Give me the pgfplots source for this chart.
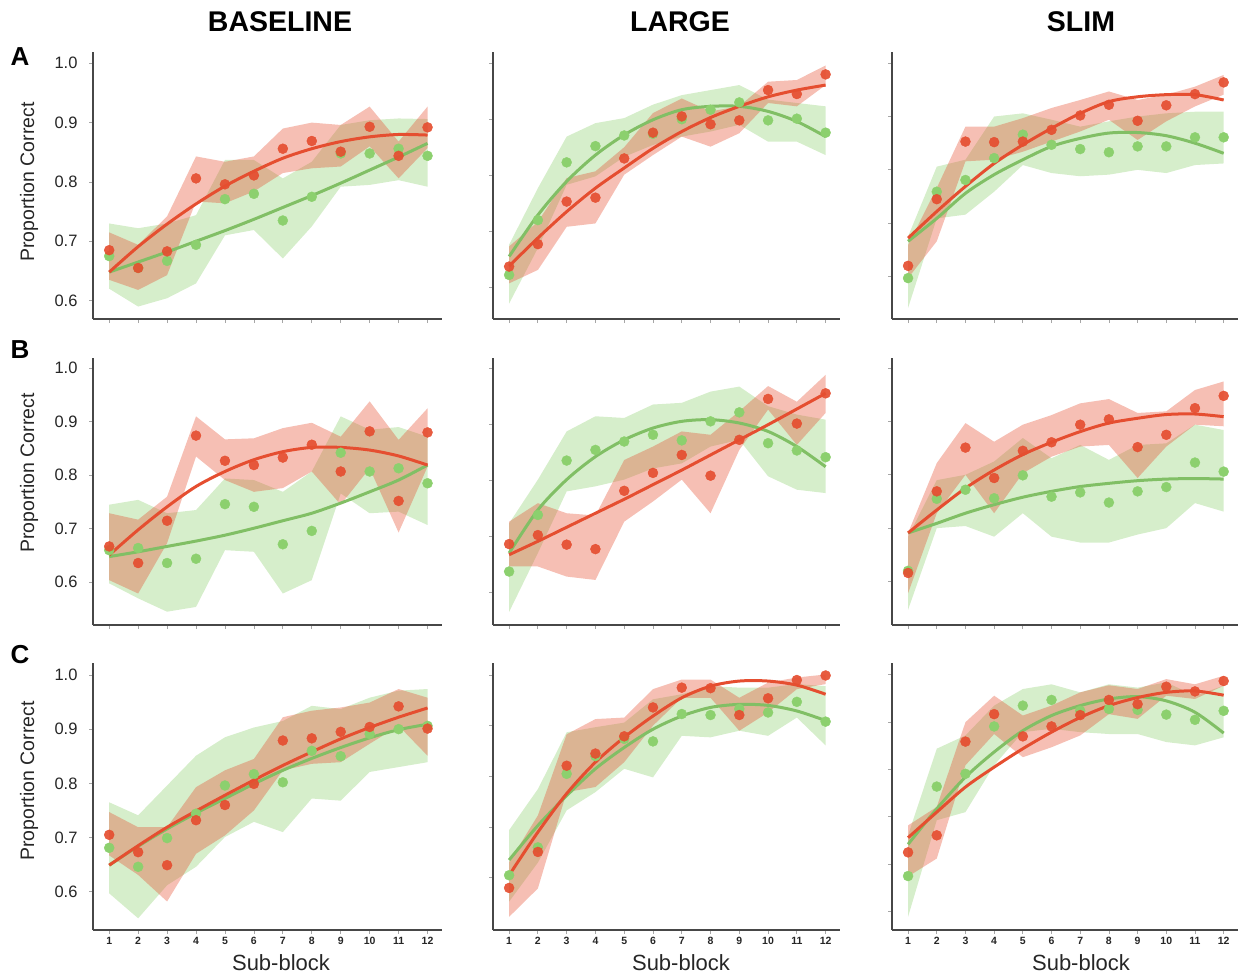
\documentclass[border=0pt]{standalone}
\usepackage{pgfplots}
\pgfplotsset{compat=1.18}
\usepgfplotslibrary{fillbetween}
\usepackage{pgfplotstable}
\usepackage{fontspec}
\setmainfont{Liberation Sans}

\definecolor{rc}{RGB}{229,78,48}
\definecolor{gc}{RGB}{140,208,110}

% columns: x, red mean, red lower, red upper, green mean, green lower, green upper, red fit, green fit
\pgfplotstableread{
x rm rl ru gm gl gu rf gf
1 .685 .635 .715 .675 .620 .730 .648 .648
2 .655 .618 .694 .655 .590 .722 .691 .665
3 .683 .643 .742 .667 .604 .730 .729 .682
4 .806 .767 .843 .694 .629 .744 .763 .700
5 .796 .764 .834 .771 .710 .837 .793 .718
6 .811 .784 .843 .780 .719 .837 .818 .737
7 .856 .815 .890 .735 .671 .806 .840 .757
8 .869 .823 .900 .775 .725 .834 .856 .777
9 .851 .826 .896 .848 .792 .896 .868 .798
10 .893 .860 .927 .848 .795 .904 .876 .820
11 .844 .806 .868 .856 .803 .907 .880 .842
12 .892 .857 .927 .844 .792 .906 .879 .865
}\tAa
\pgfplotstableread{
x rm rl ru gm gl gu rf gf
1 .637 .607 .673 .622 .571 .676 .638 .655
2 .677 .631 .717 .720 .670 .777 .688 .729
3 .753 .708 .795 .823 .783 .869 .735 .789
4 .760 .714 .807 .852 .798 .893 .777 .836
5 .830 .801 .850 .871 .833 .902 .813 .872
6 .876 .836 .911 .874 .854 .926 .848 .899
7 .905 .869 .937 .900 .869 .943 .878 .917
8 .891 .851 .914 .917 .878 .952 .903 .923
9 .898 .875 .923 .930 .890 .961 .923 .923
10 .952 .929 .967 .898 .860 .935 .940 .914
11 .945 .923 .970 .901 .860 .929 .952 .896
12 .980 .961 .996 .876 .836 .923 .961 .869
}\tAb
\pgfplotstableread{
x rm rl ru gm gl gu rf gf
1 .620 .597 .659 .597 .541 .675 .672 .666
2 .745 .666 .766 .759 .709 .806 .722 .709
3 .853 .816 .881 .781 .716 .819 .769 .756
4 .852 .819 .881 .822 .759 .900 .812 .791
5 .853 .834 .897 .866 .809 .906 .847 .819
6 .875 .853 .916 .847 .794 .894 .878 .844
7 .902 .872 .931 .839 .788 .881 .906 .859
8 .922 .894 .947 .833 .791 .891 .928 .869
9 .892 .856 .931 .844 .800 .900 .937 .870
10 .921 .891 .941 .844 .794 .906 .941 .864
11 .942 .919 .956 .861 .809 .909 .941 .850
12 .964 .941 .978 .861 .812 .909 .931 .831
}\tAc
\pgfplotstableread{
x rm rl ru gm gl gu rf gf
1 .667 .604 .729 .660 .598 .745 .651 .648
2 .636 .579 .717 .664 .570 .754 .698 .657
3 .715 .673 .760 .636 .545 .729 .741 .667
4 .874 .835 .910 .644 .554 .735 .779 .677
5 .827 .791 .867 .746 .660 .794 .807 .688
6 .819 .769 .869 .741 .657 .791 .829 .701
7 .833 .776 .888 .671 .579 .769 .844 .715
8 .857 .807 .898 .696 .604 .807 .852 .729
9 .807 .745 .872 .842 .766 .910 .852 .748
10 .882 .813 .938 .807 .729 .885 .847 .769
11 .752 .693 .866 .813 .732 .890 .836 .791
12 .880 .816 .925 .785 .707 .872 .819 .819
}\tBa
\pgfplotstableread{
x rm rl ru gm gl gu rf gf
1 .686 .646 .726 .637 .565 .723 .667 .670
2 .702 .646 .759 .738 .670 .801 .691 .747
3 .685 .628 .741 .835 .780 .887 .716 .801
4 .677 .622 .737 .854 .789 .914 .741 .842
5 .781 .726 .836 .869 .801 .911 .766 .872
6 .813 .762 .860 .881 .821 .935 .792 .893
7 .845 .801 .887 .871 .830 .938 .818 .905
8 .808 .741 .881 .905 .860 .958 .845 .908
9 .872 .854 .923 .921 .872 .967 .872 .902
10 .945 .926 .968 .866 .807 .932 .899 .887
11 .901 .863 .940 .853 .783 .917 .927 .860
12 .955 .920 .988 .841 .777 .908 .955 .824
}\tBb
\pgfplotstableread{
x rm rl ru gm gl gu rf gf
1 .616 .578 .691 .620 .547 .684 .691 .691
2 .769 .728 .822 .755 .700 .790 .734 .709
3 .851 .800 .897 .772 .704 .800 .775 .728
4 .794 .728 .862 .756 .684 .825 .809 .744
5 .845 .803 .894 .799 .728 .869 .838 .758
6 .861 .834 .912 .759 .684 .831 .861 .769
7 .894 .853 .934 .767 .673 .856 .881 .778
8 .904 .856 .942 .748 .673 .828 .897 .784
9 .852 .794 .916 .769 .688 .856 .906 .789
10 .875 .853 .919 .777 .700 .859 .913 .792
11 .925 .894 .959 .823 .747 .894 .914 .793
12 .948 .891 .975 .806 .731 .884 .909 .792
}\tBc
\pgfplotstableread{
x rm rl ru gm gl gu rf gf
1 .705 .667 .747 .681 .597 .765 .649 .649
2 .673 .631 .719 .646 .551 .741 .685 .684
3 .649 .582 .719 .699 .612 .796 .719 .716
4 .732 .670 .793 .744 .646 .851 .749 .745
5 .760 .704 .824 .796 .701 .885 .778 .772
6 .799 .750 .845 .817 .729 .903 .806 .799
7 .879 .824 .922 .802 .710 .915 .833 .824
8 .883 .836 .934 .860 .772 .943 .858 .846
9 .895 .839 .940 .850 .768 .937 .882 .866
10 .904 .873 .949 .891 .821 .958 .903 .884
11 .942 .906 .974 .900 .830 .971 .922 .899
12 .901 .851 .958 .906 .839 .974 .939 .909
}\tCa
\pgfplotstableread{
x rm rl ru gm gl gu rf gf
1 .580 .523 .631 .605 .553 .694 .605 .635
2 .651 .579 .723 .660 .630 .775 .690 .703
3 .821 .769 .883 .805 .733 .887 .766 .762
4 .845 .779 .913 .840 .769 .897 .828 .815
5 .879 .828 .916 .874 .815 .906 .877 .857
6 .936 .900 .972 .869 .798 .952 .919 .893
7 .975 .955 .991 .923 .880 .962 .955 .919
8 .974 .955 .991 .921 .877 .978 .978 .936
9 .921 .890 .955 .933 .890 .975 .988 .942
10 .954 .926 .985 .926 .880 .975 .988 .940
11 .990 .972 .995 .947 .916 .982 .980 .929
12 .999 .982 1.001 .908 .861 .978 .962 .910
}\tCb
\pgfplotstableread{
x rm rl ru gm gl gu rf gf
1 .625 .574 .682 .575 .489 .661 .656 .642
2 .661 .612 .721 .764 .693 .844 .710 .717
3 .859 .809 .900 .791 .710 .872 .763 .784
4 .917 .875 .956 .891 .809 .935 .805 .837
5 .870 .826 .914 .935 .879 .970 .844 .882
6 .891 .847 .935 .947 .886 .980 .879 .914
7 .915 .872 .963 .924 .879 .963 .910 .935
8 .947 .917 .978 .928 .875 .980 .935 .949
9 .938 .907 .970 .926 .875 .973 .952 .954
10 .975 .956 .991 .916 .858 .984 .963 .945
11 .965 .949 .980 .905 .851 .956 .966 .921
12 .987 .977 .998 .924 .868 .977 .957 .877
}\tCc

\pgfplotsset{
  panel/.style={
    scale only axis, height=267pt, xmin=0.44, xmax=12.5,
    axis x line*=bottom, axis y line*=left,
    axis line style={-, black!72, line width=1.7pt},
    xtick={1,2,3,4,5,6,7,8,9,10,11,12},
    ytick={0.6,0.7,0.8,0.9,1.0},
    tick align=outside, major tick length=4pt,
    tick style={black!35, line width=0.8pt},
    xticklabels={}, yticklabels={},
  },
  ylabs/.style={
    yticklabels={0.6,0.7,0.8,0.9,1.0},
    yticklabel style={font=\fontsize{16.5}{16.5}\selectfont, text=black!85, xshift=-8pt},
  },
  xlabs/.style={
    xticklabels={1,2,3,4,5,6,7,8,9,10,11,12},
    xticklabel style={font=\fontsize{10.5}{10.5}\selectfont\bfseries, text=black!85},
  },
}

\newcommand{\drawpanel}[1]{%
  \addplot[name path=gu, draw=none, forget plot] table[x=x,y=gu]{#1};
  \addplot[name path=gl, draw=none, forget plot] table[x=x,y=gl]{#1};
  \addplot[fill=gc, fill opacity=0.36, draw=none] fill between[of=gu and gl];
  \addplot[only marks, mark=*, mark size=5pt, color=gc] table[x=x,y=gm]{#1};
  \addplot[color=gc!92!black, line width=3pt, smooth] table[x=x,y=gf]{#1};
  \addplot[name path=ru, draw=none, forget plot] table[x=x,y=ru]{#1};
  \addplot[name path=rl, draw=none, forget plot] table[x=x,y=rl]{#1};
  \addplot[fill=rc, fill opacity=0.36, draw=none] fill between[of=ru and rl];
  \addplot[only marks, mark=*, mark size=5pt, color=rc, opacity=0.92] table[x=x,y=rm]{#1};
  \addplot[color=rc, line width=3pt, smooth] table[x=x,y=rf]{#1};
}

\begin{document}
\begin{tikzpicture}
% Row A
\begin{axis}[panel, ylabs, at={(93pt,-319pt)}, anchor=south west, width=349pt, ymin=0.569, ymax=1.019]
\drawpanel{\tAa}
\end{axis}
\begin{axis}[panel, at={(493pt,-319pt)}, anchor=south west, width=347pt, ymin=0.5434, ymax=1.020]
\drawpanel{\tAb}
\end{axis}
\begin{axis}[panel, at={(892pt,-319pt)}, anchor=south west, width=346pt, ymin=0.5203, ymax=1.021]
\drawpanel{\tAc}
\end{axis}
% Row B
\begin{axis}[panel, ylabs, at={(93pt,-625pt)}, anchor=south west, width=349pt, ymin=0.5202, ymax=1.019]
\drawpanel{\tBa}
\end{axis}
\begin{axis}[panel, at={(493pt,-625pt)}, anchor=south west, width=347pt, ymin=0.5416, ymax=1.018]
\drawpanel{\tBb}
\end{axis}
\begin{axis}[panel, at={(892pt,-625pt)}, anchor=south west, width=346pt, ymin=0.5184, ymax=1.019]
\drawpanel{\tBc}
\end{axis}
% Row C
\begin{axis}[panel, ylabs, xlabs, at={(93pt,-930pt)}, anchor=south west, width=349pt, ymin=0.5294, ymax=1.022]
\drawpanel{\tCa}
\end{axis}
\begin{axis}[panel, xlabs, at={(493pt,-930pt)}, anchor=south west, width=347pt, ymin=0.497, ymax=1.0236]
\drawpanel{\tCb}
\end{axis}
\begin{axis}[panel, xlabs, at={(892pt,-930pt)}, anchor=south west, width=346pt, ymin=0.461, ymax=1.025, ytick={0.5,0.6,0.7,0.8,0.9,1.0}]
\drawpanel{\tCc}
\end{axis}
% Titles
\node[font=\fontsize{28.5}{28.5}\selectfont\bfseries] at (280pt,-22pt) {BASELINE};
\node[font=\fontsize{28.5}{28.5}\selectfont\bfseries] at (680pt,-22pt) {LARGE};
\node[font=\fontsize{28.5}{28.5}\selectfont\bfseries] at (1081pt,-22pt) {SLIM};
% Row letters
\node[font=\fontsize{26}{26}\selectfont\bfseries] at (20pt,-57pt) {A};
\node[font=\fontsize{26}{26}\selectfont\bfseries] at (20pt,-350pt) {B};
\node[font=\fontsize{26}{26}\selectfont\bfseries] at (20pt,-655pt) {C};
% y labels
\node[font=\fontsize{19.5}{19.5}\selectfont, rotate=90, text=black!85] at (29pt,-182pt) {Proportion Correct};
\node[font=\fontsize{19.5}{19.5}\selectfont, rotate=90, text=black!85] at (29pt,-473pt) {Proportion Correct};
\node[font=\fontsize{19.5}{19.5}\selectfont, rotate=90, text=black!85] at (29pt,-781pt) {Proportion Correct};
% x labels
\node[font=\fontsize{22}{22}\selectfont, text=black!85] at (281pt,-963pt) {Sub-block};
\node[font=\fontsize{22}{22}\selectfont, text=black!85] at (681pt,-963pt) {Sub-block};
\node[font=\fontsize{22}{22}\selectfont, text=black!85] at (1081pt,-963pt) {Sub-block};
\path (0pt,0pt) rectangle (1242pt,-973pt);
\end{tikzpicture}
\end{document}
